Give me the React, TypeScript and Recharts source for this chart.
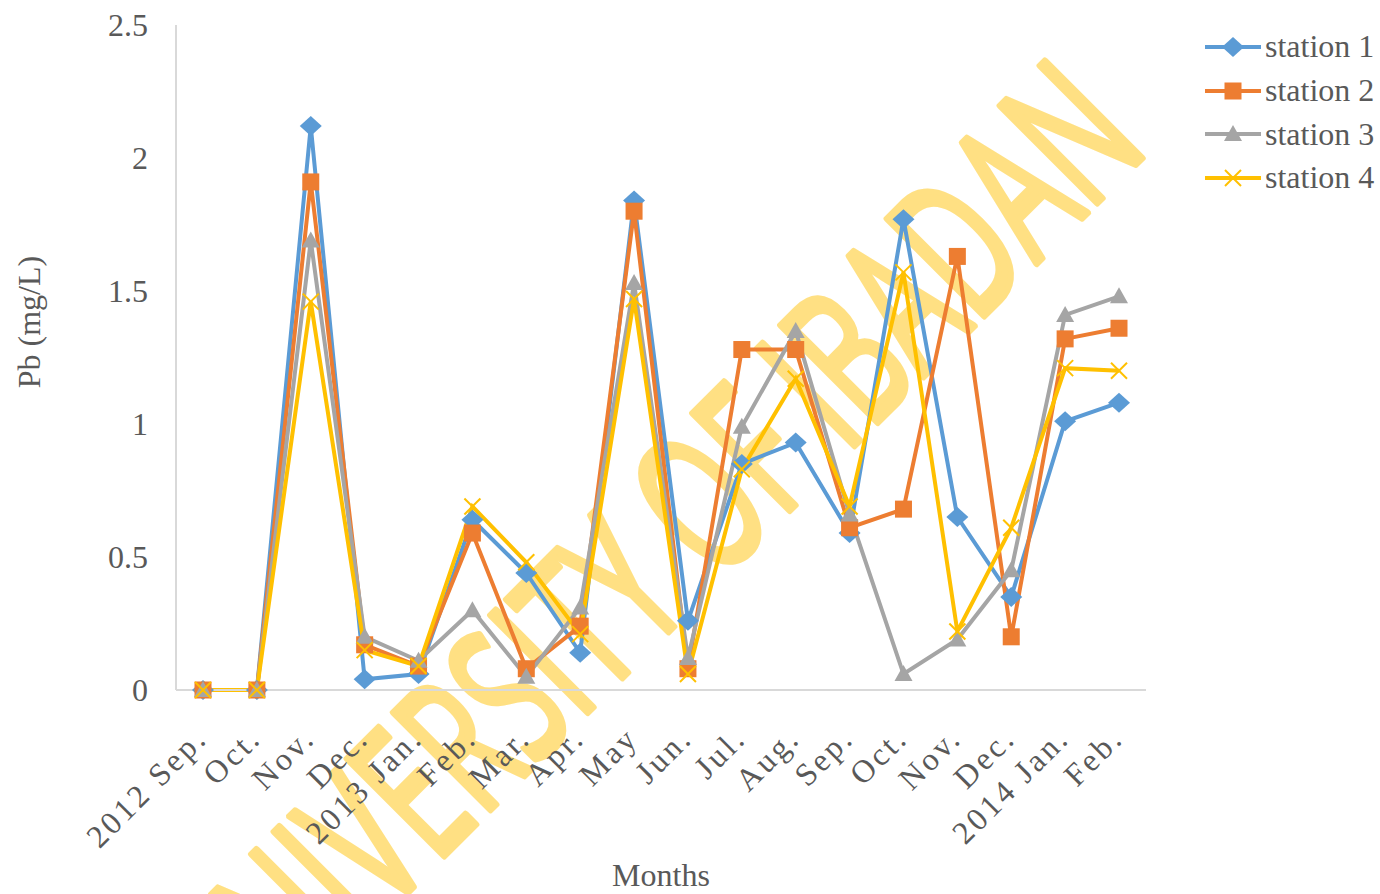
import { LineChart, Line, XAxis, YAxis, Legend } from "recharts";

const months = [
  "2012 Sep.", "Oct.", "Nov.", "Dec.", "2013 Jan.", "Feb.", "Mar.", "Apr.", "May",
  "Jun.", "Jul.", "Aug.", "Sep.", "Oct.", "Nov.", "Dec.", "2014 Jan.", "Feb.",
];

const station1 = [0, 0, 2.12, 0.04, 0.06, 0.64, 0.44, 0.14, 1.84, 0.26, 0.85, 0.93, 0.59, 1.77, 0.65, 0.35, 1.01, 1.08];
const station2 = [0, 0, 1.91, 0.17, 0.09, 0.59, 0.08, 0.24, 1.8, 0.08, 1.28, 1.28, 0.61, 0.68, 1.63, 0.2, 1.32, 1.36];
const station3 = [0, 0, 1.69, 0.2, 0.11, 0.3, 0.05, 0.31, 1.53, 0.12, 0.99, 1.35, 0.66, 0.06, 0.19, 0.45, 1.41, 1.48];
const station4 = [0, 0, 1.46, 0.15, 0.09, 0.69, 0.48, 0.21, 1.47, 0.06, 0.83, 1.17, 0.69, 1.57, 0.22, 0.61, 1.21, 1.2];

const yTicks = [0, 0.5, 1, 1.5, 2, 2.5];

const rows = months.map((m, i) => ({
  i,
  s1: station1[i],
  s2: station2[i],
  s3: station3[i],
  s4: station4[i],
}));

const FONT = "'Liberation Serif', 'Times New Roman', serif";
const TEXT = "#595959";

type Shape = "diamond" | "square" | "triangle" | "cross";

const series: { key: string; name: string; color: string; shape: Shape }[] = [
  { key: "s1", name: "station 1", color: "#5B9BD5", shape: "diamond" },
  { key: "s2", name: "station 2", color: "#ED7D31", shape: "square" },
  { key: "s3", name: "station 3", color: "#A5A5A5", shape: "triangle" },
  { key: "s4", name: "station 4", color: "#FFC000", shape: "cross" },
];

function Marker({ cx, cy, shape, color }: { cx: number; cy: number; shape: Shape; color: string }) {
  if (cx == null || cy == null) return null;
  if (shape === "diamond") {
    return <polygon points={`${cx},${cy - 10} ${cx + 11},${cy} ${cx},${cy + 10} ${cx - 11},${cy}`} fill={color} />;
  }
  if (shape === "square") {
    return <rect x={cx - 8.5} y={cy - 8.5} width={17} height={17} fill={color} />;
  }
  if (shape === "triangle") {
    return <polygon points={`${cx},${cy - 9} ${cx + 9},${cy + 7} ${cx - 9},${cy + 7}`} fill={color} />;
  }
  return (
    <g stroke={color} strokeWidth={2}>
      <line x1={cx - 8} y1={cy - 8} x2={cx + 8} y2={cy + 8} />
      <line x1={cx - 8} y1={cy + 8} x2={cx + 8} y2={cy - 8} />
    </g>
  );
}

function MonthTick(props: any) {
  const { x, y, payload } = props;
  const tx = x + 6;
  const ty = y + 42;
  return (
    <text
      x={tx}
      y={ty}
      transform={`rotate(-45 ${tx} ${ty})`}
      textAnchor="end"
      fontSize={32}
      letterSpacing={3}
      fontFamily={FONT}
      fill={TEXT}
    >
      {months[payload.value]}
    </text>
  );
}

function LegendBox() {
  return (
    <div style={{ fontFamily: FONT, fontSize: 32, color: TEXT }}>
      {series.map((s) => (
        <div key={s.key} style={{ display: "flex", alignItems: "center", height: 43.7, whiteSpace: "nowrap" }}>
          <svg width={60} height={24} style={{ marginRight: 2 }}>
            <line x1={2} y1={12} x2={58} y2={12} stroke={s.color} strokeWidth={4} />
            <Marker cx={30} cy={12} shape={s.shape} color={s.color} />
          </svg>
          <span>{s.name}</span>
        </div>
      ))}
    </div>
  );
}

export default function App() {
  return (
    <div style={{ position: "absolute", left: 0, top: 0, width: 1380, height: 894, background: "#fff" }}>
      <svg width={1380} height={894} style={{ position: "absolute", left: 0, top: 0 }}>
        <text
          x={695}
          y={605}
          transform="rotate(-45 695 605)"
          textAnchor="middle"
          fontSize={192}
          fontFamily="'Open Sans', sans-serif"
          textLength={1290}
          lengthAdjust="spacingAndGlyphs"
          fill="#FFE083"
          stroke="#FFE083"
          strokeWidth={7}
          strokeLinejoin="round"
        >
          UNIVERSITY OF IBADAN
        </text>
      </svg>
      <div style={{ position: "absolute", left: 0, top: 0 }}>
        <LineChart width={1380} height={894} data={rows} margin={{ top: 25, right: 234, left: 0, bottom: 0 }}>
          <XAxis
            dataKey="i"
            type="category"
            height={204}
            interval={0}
            padding={{ left: 27, right: 27 }}
            axisLine={{ stroke: "#D9D9D9", strokeWidth: 2 }}
            tickLine={false}
            tick={<MonthTick />}
            label={(p: any) => (
              <text
                x={p.viewBox.x + p.viewBox.width / 2}
                y={886}
                textAnchor="middle"
                fontSize={32}
                fontFamily={FONT}
                fill={TEXT}
              >
                Months
              </text>
            )}
          />
          <YAxis
            width={176}
            domain={[0, 2.5]}
            ticks={yTicks}
            interval={0}
            axisLine={{ stroke: "#D9D9D9", strokeWidth: 2 }}
            tickLine={false}
            tickSize={6}
            tickMargin={22}
            tick={{ fontSize: 32, fill: TEXT, fontFamily: FONT }}
            label={() => (
              <text
                x={40}
                y={322}
                transform="rotate(-90 40 322)"
                textAnchor="middle"
                fontSize={32}
                fontFamily={FONT}
                fill={TEXT}
              >
                Pb (mg/L)
              </text>
            )}
          />
          <Legend
            layout="vertical"
            align="center"
            verticalAlign="middle"
            wrapperStyle={{ left: 1203, top: 25, width: 177 }}
            content={() => <LegendBox />}
          />
          {series.map((s) => (
            <Line
              key={s.key}
              dataKey={s.key}
              name={s.name}
              type="linear"
              stroke={s.color}
              strokeWidth={4}
              isAnimationActive={false}
              dot={(p: any) => <Marker key={`${s.key}-${p.index}`} cx={p.cx} cy={p.cy} shape={s.shape} color={s.color} />}
              activeDot={false}
            />
          ))}
        </LineChart>
      </div>
    </div>
  );
}
